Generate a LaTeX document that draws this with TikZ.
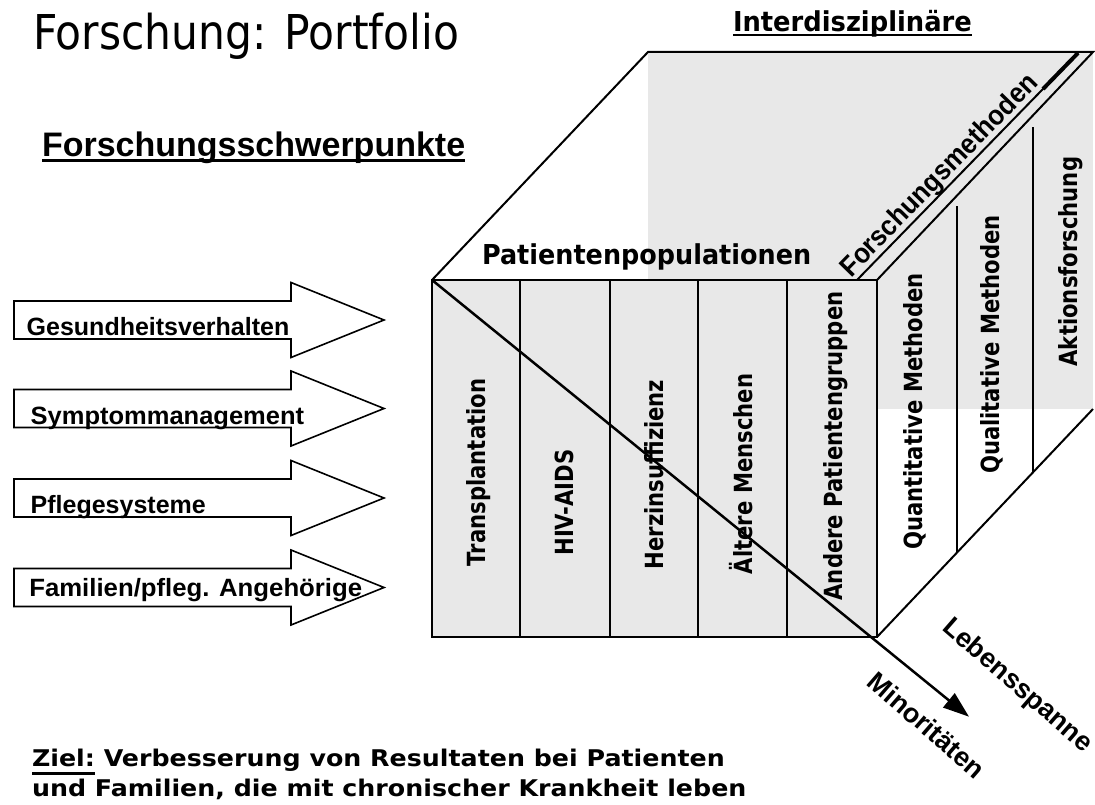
\documentclass[tikz,border=0pt]{standalone}
\usepackage{fontspec}
\usepackage{graphicx}
\usetikzlibrary{arrows.meta}
\newfontfamily\dv{DejaVu Sans}
\newfontfamily\lib{Liberation Sans}
\definecolor{facegrey}{RGB}{232,232,232}
\newcommand{\sx}[2]{\scalebox{#1}[1]{#2}}
\tikzset{
  edge/.style={line width=2pt, line join=miter},
  lab/.style={inner sep=0pt, outer sep=0pt},
  facelab/.style={lab, rotate=90, anchor=base, font=\fontsize{25}{30}\dv\bfseries},
  arrowlab/.style={lab, anchor=base west, font=\fontsize{25}{30}\lib\bfseries},
  blockarrow/.style={draw, line width=1.6pt, fill=white, line join=miter},
  headlab/.style={lab, anchor=base west},
  axislab/.style={lab, rotate=-41, font=\fontsize{27}{32}\lib\bfseries},
  goalfont/.style={font=\fontsize{23}{28}\dv\bfseries},
}
\begin{document}
\begin{tikzpicture}[x=1pt,y=-1pt]
\useasboundingbox[fill=white] (0,0) rectangle (1095,805);

% cube corners
\coordinate (FTL) at (432,280);
\coordinate (FTR) at (877,280);
\coordinate (FBR) at (877,637);
\coordinate (BTL) at (648,52);
\coordinate (BTR) at (1093,52);
\coordinate (BBR) at (1093,409);

% back face (seen through)
\fill[facegrey] (BTL) rectangle (BBR);

% front face
\draw[edge, fill=facegrey] (FTL) rectangle (FBR);
\foreach \x in {520,610,698,787} \draw[edge] (\x,280) -- (\x,637);

% top face and right face
\draw[edge] (FTL) -- (BTL) -- (BTR) -- (FTR);
\draw[edge] (FBR) -- (BBR);
\draw[edge] (957,552.6) -- (957,206);
\draw[edge] (1033,472.3) -- (1033,127);

% Forschungsmethoden with its underline
\coordinate (U0) at (857,280);
\coordinate (U1) at (1078,53);
\coordinate (U2) at (1043,89);
\draw[line width=2pt] (U0) -- (U1);
\draw[line width=4pt] (U2) -- (U1);
\node[lab, anchor=base west, rotate=45.7, font=\fontsize{28}{33}\lib\bfseries] (fm) at (851,278) {\sx{0.92}{Forschungsmethoden}};

% face labels
\node[facelab] (tx)  at (485,472.5) {\sx{0.846}{Transplantation}};
\node[facelab] (hiv) at (573,502.5) {\sx{0.846}{HIV-AIDS}};
\node[facelab] (hi)  at (663,474.5) {\sx{0.846}{Herzinsuffizienz}};
\node[facelab] (am)  at (752,474)   {\sx{0.846}{Ältere Menschen}};
\node[facelab] (ap)  at (842,446)   {\sx{0.846}{Andere Patientengruppen}};
\node[facelab] (qn)  at (922,411.6) {\sx{0.846}{Quantitative Methoden}};
\node[facelab] (ql)  at (999,344.6) {\sx{0.846}{Qualitative Methoden}};
\node[facelab] (ak)  at (1077,261.6) {\sx{0.846}{Aktionsforschung}};

% diagonal arrow
\coordinate (mtip) at (969,716.7);
\draw[line width=2.5pt, -{Triangle[length=26pt,width=18pt]}] (FTL) -- (mtip);

% axis labels
\node[axislab] (leb) at (1017,686) {Lebensspanne};
\node[axislab] (min) at (926.7,725) {Minoritäten};

% headings
\node[headlab, font=\fontsize{48}{58}\dv] (title) at (33,50) {\sx{0.884}{Forschung: Portfolio}};
\node[headlab, font=\fontsize{34}{40}\lib\bfseries] (fsp) at (42,156.7) {Forschungsschwerpunkte};
\draw[line width=2.7pt] ([yshift=-4pt]fsp.base west) -- ([yshift=-4pt]fsp.base east);
\node[headlab, font=\fontsize{27.4}{33}\dv\bfseries] (idz) at (733,31.7) {\sx{0.94}{Interdisziplinäre}};
\draw[line width=2.7pt] ([yshift=-3.3pt]idz.base west) -- ([yshift=-3.3pt]idz.base east);
\node[headlab, font=\fontsize{27.4}{33}\dv\bfseries] (pp) at (482,265) {\sx{0.93}{Patientenpopulationen}};

% block arrows
\foreach \c in {320,408.5,498,587.5}{
  \draw[blockarrow] (14,\c-19) -- (291,\c-19) -- (291,\c-37.5) -- (384,\c)
     -- (291,\c+37.5) -- (291,\c+19) -- (14,\c+19) -- cycle;
}
\node[arrowlab] (a1) at (26.7,335.7) {Gesundheitsverhalten};
\node[arrowlab] (a2) at (30.7,424) {\sx{1.02}{Symptommanagement}};
\node[arrowlab] (a3) at (30.7,513) {Pflegesysteme};
\node[arrowlab] (a4) at (29.3,596) {\sx{1.03}{Familien/pfleg. Angehörige}};

% goal
\node[headlab, goalfont] (ziel) at (32,766.7) {\sx{1.1}{Ziel:}};
\draw[line width=2.5pt] ([yshift=-7pt]ziel.base west) -- ([yshift=-7pt]ziel.base east);
\node[headlab, goalfont] (ziel1) at (ziel.base east) {\sx{1.1}{\ Verbesserung von Resultaten bei Patienten}};
\node[headlab, goalfont] (ziel2) at (32,796) {\sx{1.1}{und Familien, die mit chronischer Krankheit leben}};
\end{tikzpicture}
\end{document}
